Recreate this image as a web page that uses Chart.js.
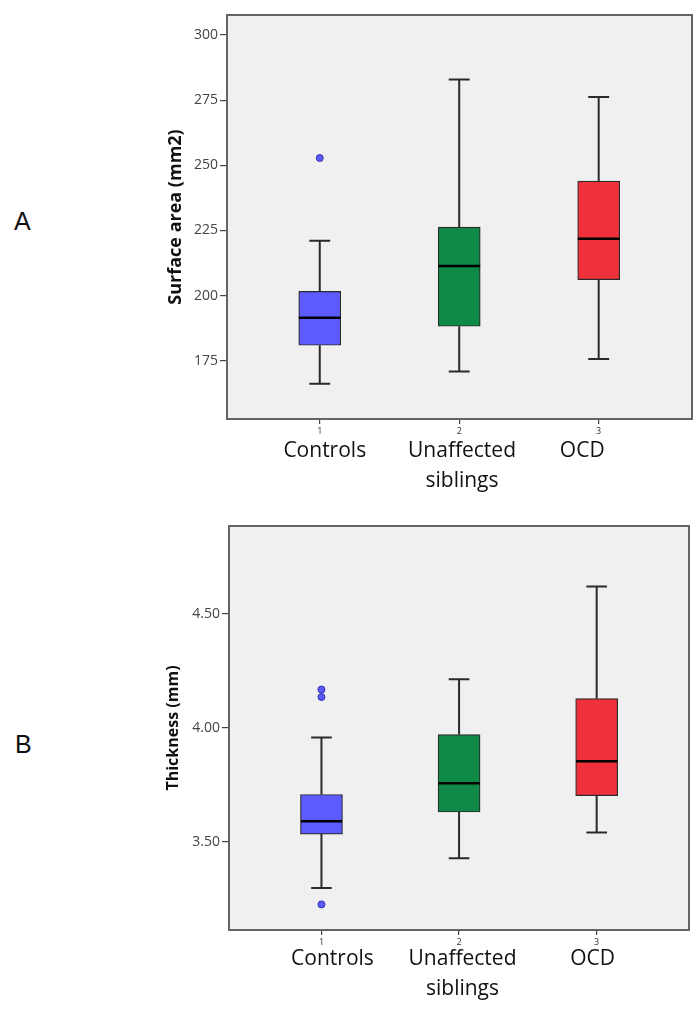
<!DOCTYPE html>
<html>
<head>
<meta charset="utf-8">
<script src="https://cdn.jsdelivr.net/npm/chart.js@4.4.1/dist/chart.umd.min.js"></script>
<style>
  html, body { margin: 0; padding: 0; background: #ffffff; }
  body { width: 700px; height: 1012px; position: relative; overflow: hidden; }
  .panel { position: absolute; left: 0; width: 700px; }
  .tag { position: absolute; font-family: 'Liberation Sans', Arial, sans-serif; font-size: 25px; line-height: 25px; color: #111; }
</style>
</head>
<body>
<div class="tag" style="left:14px; top:209px;">A</div>
<div class="tag" style="left:15px; top:732px;">B</div>
<div class="panel" style="top:0; height:500px;"><canvas id="chartA" width="700" height="500"></canvas></div>
<div class="panel" style="top:500px; height:512px;"><canvas id="chartB" width="700" height="512"></canvas></div>
<script>
// ---------- data ----------
const categories = ['Controls', ['Unaffected', 'siblings'], 'OCD'];
const groupNumbers = ['1', '2', '3'];

// A: Surface area (mm2)
const areaTitle = 'Surface area (mm2)';
const areaMin    = [166.1, 170.8, 175.6];
const areaQ1     = [180.9, 188.2, 206.1];
const areaMedian = [191.5, 211.3, 221.8];
const areaQ3     = [201.6, 226.3, 243.9];
const areaMax    = [221.0, 282.9, 276.2];
const areaOutliers = [[252.8], [], []];
const areaTicks  = [175, 200, 225, 250, 275, 300];

// B: Thickness (mm)
const thickTitle = 'Thickness (mm)';
const thickMin    = [3.296, 3.427, 3.540];
const thickQ1     = [3.533, 3.630, 3.702];
const thickMedian = [3.589, 3.756, 3.853];
const thickQ3     = [3.707, 3.970, 4.128];
const thickMax    = [3.957, 4.213, 4.620];
const thickOutliers = [[4.168, 4.135, 3.2245], [], []];
const thickTicks  = [3.50, 4.00, 4.50];

// ---------- styling ----------
const boxColors = ['#5b5bff', '#0f8a46', '#ef313b'];
Chart.defaults.font.family = "'Open Sans', sans-serif";

const framePlugin = {
  id: 'frame',
  beforeDraw(chart) {
    const { ctx, chartArea: a } = chart;
    ctx.save();
    ctx.fillStyle = '#f0f0f0';
    ctx.fillRect(a.left, a.top, a.right - a.left, a.bottom - a.top);
    ctx.restore();
  },
  afterDraw(chart) {
    const { ctx, chartArea: a } = chart;
    ctx.save();
    ctx.strokeStyle = '#646464';
    ctx.lineWidth = 2;
    ctx.strokeRect(a.left, a.top, a.right - a.left, a.bottom - a.top);
    ctx.restore();
  }
};

function boxChart(id, s) {
  const idx = categories.map((_, i) => i + 1);
  const capHalf = 0.075, medHalf = 0.15;

  const whiskers = [];
  const caps = [];
  const medians = [];
  idx.forEach((x, i) => {
    whiskers.push({x, y: s.max[i]}, {x, y: s.q3[i]}, {x, y: null},
                  {x, y: s.q1[i]}, {x, y: s.min[i]}, {x, y: null});
    caps.push({x: x - capHalf, y: s.max[i]}, {x: x + capHalf, y: s.max[i]}, {x, y: null},
              {x: x - capHalf, y: s.min[i]}, {x: x + capHalf, y: s.min[i]}, {x, y: null});
    medians.push({x: x - medHalf, y: s.median[i]}, {x: x + medHalf, y: s.median[i]}, {x, y: null});
  });
  const outl = s.outliers.flatMap((arr, i) => arr.map(v => ({x: i + 1, y: v})));

  const lineDefaults = { type: 'line', xAxisID: 'x', yAxisID: 'y', pointRadius: 0, spanGaps: false,
                         fill: false, tension: 0 };

  return new Chart(document.getElementById(id), {
    type: 'bar',
    data: {
      datasets: [
        { type: 'bar', xAxisID: 'x', yAxisID: 'y',
          data: idx.map((x, i) => ({x, y: [s.q1[i], s.q3[i]]})),
          backgroundColor: boxColors, borderColor: '#2a2a2a', borderWidth: 1.2,
          borderSkipped: false, barThickness: 42, order: 3 },
        Object.assign({}, lineDefaults, { data: whiskers, borderColor: '#2a2a2a', borderWidth: 2, order: 4 }),
        Object.assign({}, lineDefaults, { data: caps, borderColor: '#2a2a2a', borderWidth: 2, order: 2 }),
        Object.assign({}, lineDefaults, { data: medians, borderColor: '#000000', borderWidth: 2.5, order: 1 }),
        { type: 'scatter', xAxisID: 'x', yAxisID: 'y', data: outl, showLine: false,
          pointRadius: 3.5, pointBackgroundColor: boxColors[0], pointBorderColor: '#3434a8',
          pointBorderWidth: 1, order: 0 }
      ]
    },
    options: {
      responsive: false,
      animation: false,
      events: [],
      layout: { padding: s.padding },
      plugins: { legend: { display: false }, tooltip: { enabled: false } },
      scales: {
        x: {
          type: 'linear', position: 'bottom', weight: 0,
          min: s.xMin, max: s.xMax, offset: false,
          afterBuildTicks: sc => { sc.ticks = idx.map(v => ({value: v})); },
          afterFit: sc => { sc.height = s.xHeight; },
          ticks: { callback: (v) => groupNumbers[Math.round(v) - 1], font: { size: 9 },
                   color: '#333333', padding: s.numPad, maxRotation: 0, autoSkip: false },
          grid: { display: true, drawOnChartArea: false, drawTicks: true, tickLength: 5,
                  offset: false, color: '#444444', lineWidth: 1.2 },
          border: { display: false }
        },
        x2: {
          type: 'linear', axis: 'x', position: 'bottom', weight: 1,
          min: s.xMin, max: s.xMax, offset: false,
          afterBuildTicks: sc => { sc.ticks = idx.map((v, i) => ({value: v + s.labelNudge[i]})); },
          afterFit: sc => { sc.height = s.x2Height; },
          ticks: { callback: (v, i) => categories[i], font: { size: 21, lineHeight: 1.43 },
                   color: '#111111', padding: s.catPad, maxRotation: 0, autoSkip: false },
          grid: { display: false, offset: false },
          border: { display: false }
        },
        y: {
          type: 'linear', position: 'left',
          min: s.yMin, max: s.yMax,
          afterBuildTicks: sc => { sc.ticks = s.ticks.map(v => ({value: v})); },
          afterFit: sc => { sc.width = s.yWidth; },
          ticks: { callback: s.fmt, font: { size: 14 }, color: '#444444', padding: 2 },
          grid: { display: true, drawOnChartArea: false, drawTicks: true, tickLength: 7,
                  color: '#444444', lineWidth: 1.2 },
          border: { display: false },
          title: { display: true, text: s.title, font: { size: s.titleSize, weight: 'bold' },
                   color: '#111111', padding: { top: s.titlePad, bottom: 0 } }
        }
      }
    },
    plugins: [framePlugin]
  });
}

boxChart('chartA', {
  title: areaTitle, titleSize: 18, titlePad: 15,
  min: areaMin, q1: areaQ1, median: areaMedian, q3: areaQ3, max: areaMax, outliers: areaOutliers,
  ticks: areaTicks, fmt: v => String(v),
  yMin: 152.6, yMax: 307.7, xMin: 0.335, xMax: 3.669,
  padding: { left: 150, right: 8, top: 15, bottom: 0 },
  yWidth: 77, xHeight: 19, x2Height: 62, numPad: 2.5, catPad: -10,
  labelNudge: [0.036, 0.02, -0.118]
});

boxChart('chartB', {
  title: thickTitle, titleSize: 16, titlePad: 14,
  min: thickMin, q1: thickQ1, median: thickMedian, q3: thickQ3, max: thickMax, outliers: thickOutliers,
  ticks: thickTicks, fmt: v => Number(v).toFixed(2),
  yMin: 3.112, yMax: 4.886, xMin: 0.328, xMax: 3.671,
  padding: { left: 150, right: 11, top: 26, bottom: 0 },
  yWidth: 79, xHeight: 17, x2Height: 65, numPad: 2, catPad: -11,
  labelNudge: [0.08, 0.025, -0.03]
});
</script>
</body>
</html>
